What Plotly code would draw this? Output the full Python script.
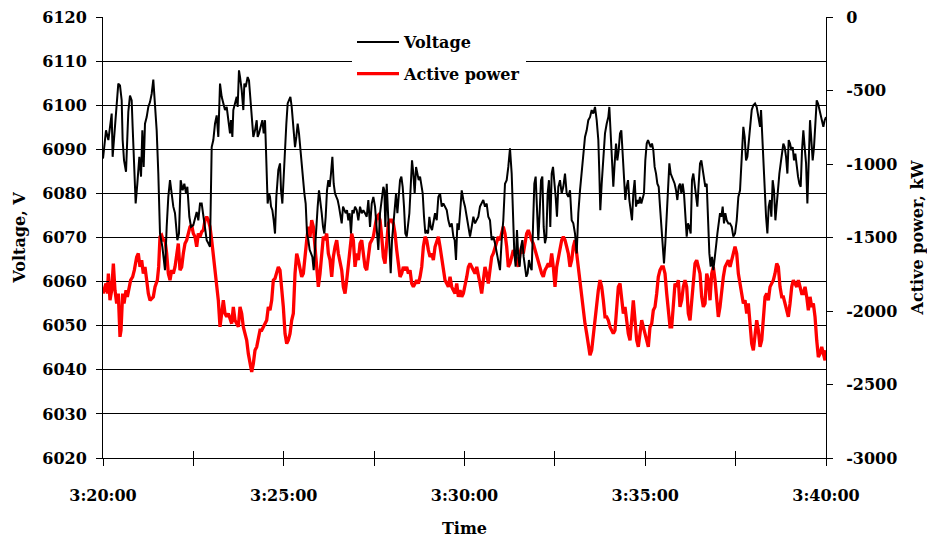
import plotly.graph_objects as go

# ---------------- data ----------------
tick_seconds = [0, 300, 600, 900, 1200]
tick_labels = ["3:20:00", "3:25:00", "3:30:00", "3:35:00", "3:40:00"]
minor_tick_seconds = [0, 150, 300, 450, 600, 750, 900, 1050, 1200]
volt_ticks = [6020, 6030, 6040, 6050, 6060, 6070, 6080, 6090, 6100, 6110, 6120]
power_ticks = [-3000, -2500, -2000, -1500, -1000, -500, 0]
power_tick_labels = ["-3000", "-2500", "-2000", "-1500", "-1000", "-500", "0"]

# Voltage, V  (time in seconds after 3:20:00)
volt_t = [
    0, 5.0, 8.9, 11.6, 14.4, 16.0, 18.3, 21.6, 25.4, 28.2,
    31.0, 32.6, 34.9, 38.2, 42.0, 44.8, 47.6, 49.2, 51.5, 54.2,
    57.0, 60.3, 63.1, 65.3, 67.5, 69.7, 72.5, 75.2, 78.0, 80.8,
    83.5, 86.3, 89.1, 91.8, 94.6, 98.5, 102.9, 105.7, 108.4, 111.2,
    114.0, 116.7, 119.5, 123.4, 126.1, 128.9, 132.2, 135.0, 137.8, 140.0,
    143.3, 146.1, 149.9, 152.7, 155.5, 158.2, 161.0, 163.8, 166.5, 169.3,
    172.1, 174.8, 177.6, 180.4, 183.1, 185.9, 188.7, 191.4, 194.2, 197.0,
    199.7, 202.5, 205.3, 208.0,
    210.8, 212.5, 214.7, 216.3, 219.1, 221.9, 223.5, 225.7, 227.4, 230.2,
    232.9, 234.6, 236.8, 240.1, 242.3, 244.5, 246.8, 249.5, 252.3, 255.1,
    256.7, 258.9, 261.7, 264.5, 266.7, 268.9, 270.0, 271.7, 273.3, 275.5,
    277.2, 278.9, 281.1, 283.3, 285.5, 287.7, 289.4, 291.0, 293.8, 295.5,
    297.7, 299.9, 302.1, 304.3, 306.5, 308.7, 311.0, 313.2, 315.4, 317.0,
    318.7, 320.9, 323.1, 325.3, 327.5, 329.8, 332.0, 334.2, 336.4, 338.6,
    340.8, 343.0, 345.3, 347.5, 349.7, 351.9, 354.1, 356.3, 358.5, 360.7,
    363.0, 365.2, 367.4, 369.6, 371.8, 374.0, 376.2, 378.4, 380.7, 382.9,
    385.1, 387.3, 389.5, 391.7, 393.9, 396.2, 398.4, 400.6, 402.8, 405.0,
    407.2, 409.4, 411.6, 413.9, 416.1,
    418.3, 421.1, 423.8, 426.6, 429.4, 432.1, 434.9, 437.7, 440.4, 443.2,
    446.0, 448.7, 451.5, 454.3, 457.0, 459.8, 462.6, 465.3, 467.0, 468.6,
    470.9, 473.1, 475.3, 477.5, 479.7, 481.9, 484.1, 486.4, 488.6, 490.8,
    493.0, 495.2, 497.4, 499.6, 501.8, 504.1, 506.3, 508.5, 510.7, 512.9,
    515.1, 517.3, 519.6, 521.8, 524.0, 526.2, 528.4, 530.6, 532.8, 535.0,
    537.3, 539.5, 541.7, 543.9, 546.1, 548.3, 551.1, 553.9, 556.6, 559.4,
    562.2, 564.9, 567.7, 570.5, 573.2, 576.0, 578.8, 581.5, 583.7, 585.9,
    588.2, 590.4, 592.6, 595.4, 598.1, 600.9, 603.7, 606.4, 609.2, 612.0,
    614.7, 617.5, 620.3, 623.0,
    625.7, 628.5, 631.2, 634.0, 636.8, 639.5, 642.3, 645.1, 647.8, 650.6,
    653.4, 656.1, 658.9, 661.7, 664.4, 667.2, 670.0, 672.7, 675.5, 678.3,
    681.0, 682.7, 684.9, 687.1, 689.3, 691.5, 693.8, 696.0, 698.2, 700.4,
    702.6, 704.8, 707.0, 709.2, 711.5, 713.7, 715.9, 718.1, 720.3, 722.5,
    724.7, 727.0, 729.2, 731.4, 733.6, 735.8, 738.0, 740.2, 742.4, 744.7,
    746.9, 749.1, 751.3, 753.5, 755.7, 758.5, 761.3, 764.0, 766.8, 769.6,
    772.3, 775.1, 777.9, 780.6, 783.4, 786.2, 788.9, 791.7, 794.5, 797.2,
    800.0, 802.8, 805.5, 808.3, 811.1, 813.8, 816.6, 819.4, 822.1, 823.8,
    825.4, 827.7, 830.4,
    833.2, 836.0, 838.7, 840.4, 842.6, 844.8, 847.0, 849.2, 851.5, 853.7,
    855.9, 858.1, 860.3, 862.5, 864.7, 866.9, 869.2, 871.4, 873.6, 875.8,
    878.0, 880.2, 882.4, 884.7, 886.9, 889.1, 891.3, 893.5, 895.7, 897.9,
    900.1, 902.4, 904.6, 906.8, 909.0, 911.2, 913.4, 915.6, 917.9, 920.1,
    922.3, 924.5, 926.7, 928.9, 931.1, 933.3, 935.6, 937.8, 940.0, 942.2,
    944.4, 946.6, 948.8, 951.1, 953.3, 955.5, 957.7, 959.9, 962.1, 964.3,
    966.5, 968.8, 971.0, 973.2, 975.4, 977.6, 979.8, 982.0, 984.3, 986.5,
    988.7, 990.9, 993.1, 995.3, 997.5, 999.7, 1002.0, 1004.2, 1006.4, 1008.6,
    1010.8, 1013.0, 1015.2, 1017.4, 1019.7, 1021.9, 1024.1, 1026.3, 1028.5, 1030.7,
    1032.9, 1035.2, 1037.9,
    1040.7, 1043.5, 1046.2, 1049.0, 1051.8, 1054.5, 1057.3, 1060.1, 1062.8, 1065.0,
    1067.3, 1069.5, 1071.7, 1073.9, 1076.7, 1079.4, 1082.2, 1085.0, 1087.7, 1090.5,
    1092.2, 1093.8, 1096.0, 1098.2, 1100.5, 1102.7, 1104.9, 1107.1, 1109.3, 1111.5,
    1113.7, 1116.0, 1118.2, 1120.4, 1122.6, 1124.8, 1127.0, 1129.2, 1131.4, 1133.7,
    1135.9, 1138.1, 1140.3, 1142.5, 1144.7, 1146.9, 1149.1, 1151.4, 1153.6, 1155.8,
    1158.0, 1160.2, 1162.4, 1164.6, 1166.9, 1169.1, 1171.3, 1173.5, 1175.7, 1177.9,
    1180.1, 1182.3, 1184.6, 1186.8, 1189.0, 1191.2, 1193.4, 1195.6, 1197.8, 1200,
]
volt_v = [
    6087.9, 6094.3, 6092.1, 6095.1, 6098.1, 6088.3, 6092.8, 6099.6, 6104.9, 6104.5,
    6101.1, 6092.1, 6087.5, 6084.9, 6098.5, 6102.2, 6101.1, 6095.1, 6086.8, 6077.7,
    6082.2, 6088.3, 6083.8, 6094.3, 6086.0, 6095.8, 6097.3, 6099.6, 6100.7, 6102.6,
    6105.8, 6100.4, 6094.3, 6084.5, 6070.9, 6067.9, 6062.6, 6072.4, 6079.2, 6083.0,
    6079.2, 6077.0, 6075.5, 6069.4, 6070.9, 6083.0, 6080.7, 6082.2, 6080.0, 6081.5,
    6074.7, 6072.4, 6072.8, 6074.7, 6075.8, 6073.9, 6077.7, 6077.7, 6074.7, 6071.7,
    6069.4, 6068.7, 6067.9, 6090.5, 6092.1, 6095.8, 6097.7, 6092.8, 6104.9, 6101.9,
    6100.4, 6098.9, 6099.6, 6095.8,
    6093.6, 6096.6, 6092.8, 6098.9, 6100.4, 6101.9, 6099.6, 6107.9, 6106.4, 6103.4,
    6098.9, 6104.9, 6104.1, 6106.4, 6105.6, 6101.9, 6096.6, 6092.8, 6094.3, 6096.6,
    6092.8, 6093.6, 6095.1, 6096.6, 6093.6, 6096.6, 6092.1, 6085.3, 6077.7, 6080.0,
    6079.2, 6077.0, 6076.2, 6073.9, 6070.9, 6079.2, 6083.0, 6085.3, 6086.8, 6080.7,
    6077.7, 6084.5, 6090.5, 6095.8, 6100.4, 6101.1, 6101.9, 6099.6, 6096.6, 6093.6,
    6090.5, 6092.8, 6095.8, 6093.6, 6089.8, 6087.5, 6083.0, 6080.0, 6077.7, 6070.9,
    6069.4, 6067.2, 6066.4, 6065.6, 6062.6, 6067.9, 6073.2, 6077.0, 6080.7, 6078.5,
    6075.5, 6072.4, 6070.9, 6074.7, 6080.7, 6083.0, 6081.5, 6084.5, 6088.3, 6082.2,
    6080.0, 6079.2, 6078.5, 6077.0, 6075.5, 6073.2, 6077.0, 6076.2, 6075.5, 6076.2,
    6073.9, 6075.5, 6070.9, 6076.2, 6075.5,
    6077.0, 6076.2, 6073.9, 6077.0, 6075.5, 6076.2, 6075.5, 6074.7, 6078.5, 6072.4,
    6077.7, 6079.2, 6077.0, 6072.4, 6067.2, 6075.5, 6078.5, 6081.5, 6080.7, 6072.4,
    6082.2, 6073.9, 6066.4, 6061.9, 6069.4, 6072.4, 6077.0, 6080.0, 6075.5, 6080.0,
    6083.0, 6083.8, 6081.5, 6077.0, 6070.9, 6070.2, 6072.4, 6075.5, 6081.5, 6087.5,
    6084.5, 6080.0, 6086.0, 6084.5, 6083.0, 6083.8, 6081.5, 6080.0, 6074.7, 6070.9,
    6071.7, 6070.9, 6074.7, 6072.4, 6071.7, 6073.9, 6075.5, 6073.9, 6079.2, 6080.0,
    6077.0, 6077.7, 6077.0, 6076.2, 6073.9, 6072.4, 6073.2, 6070.2, 6069.4, 6064.9,
    6073.2, 6071.7, 6075.5, 6080.7, 6078.5, 6077.0, 6074.7, 6072.4, 6070.2, 6072.4,
    6074.7, 6073.2, 6073.9, 6074.7,
    6077.0, 6077.7, 6078.5, 6077.0, 6077.7, 6074.7, 6073.9, 6069.4, 6070.2, 6068.7,
    6066.4, 6064.9, 6062.6, 6069.4, 6073.9, 6082.2, 6083.0, 6086.0, 6090.2, 6084.5,
    6075.5, 6066.4, 6063.4, 6071.7, 6065.6, 6063.4, 6067.9, 6069.4, 6065.6, 6062.6,
    6061.1, 6061.9, 6064.9, 6063.4, 6062.6, 6072.4, 6082.2, 6083.8, 6075.5, 6069.4,
    6075.5, 6083.0, 6083.8, 6072.4, 6068.7, 6070.2, 6080.0, 6083.0, 6072.4, 6084.5,
    6086.0, 6083.0, 6079.2, 6074.7, 6081.5, 6083.0, 6080.0, 6081.5, 6084.5, 6080.0,
    6079.2, 6080.7, 6073.9, 6073.2, 6070.9, 6066.4, 6075.5, 6080.7, 6084.5, 6087.5,
    6092.8, 6094.3, 6096.6, 6097.3, 6098.9, 6098.1, 6099.6, 6096.6, 6092.1, 6084.5,
    6076.2, 6082.2, 6087.5,
    6093.6, 6095.8, 6097.3, 6099.6, 6094.3, 6088.3, 6081.5, 6086.8, 6091.3, 6087.5,
    6089.8, 6093.6, 6094.3, 6089.0, 6083.0, 6078.5, 6081.5, 6083.0, 6078.5, 6076.2,
    6073.9, 6080.0, 6083.0, 6077.0, 6078.5, 6077.7, 6079.2, 6077.7, 6079.2, 6080.0,
    6087.5, 6091.3, 6092.1, 6091.3, 6090.5, 6091.3, 6089.8, 6086.0, 6084.5, 6082.2,
    6081.5, 6077.0, 6072.4, 6067.9, 6064.1, 6068.7, 6075.5, 6083.0, 6086.8, 6084.5,
    6083.8, 6083.0, 6082.2, 6080.7, 6078.5, 6081.5, 6082.2, 6080.0, 6082.2, 6080.0,
    6073.9, 6070.2, 6073.2, 6072.4, 6070.9, 6083.0, 6084.5, 6081.5, 6078.5, 6077.0,
    6082.2, 6086.8, 6087.5, 6085.3, 6083.0, 6081.5, 6082.2, 6073.9, 6066.4, 6063.4,
    6065.6, 6062.6, 6064.9, 6067.9, 6070.9, 6073.9, 6075.5, 6074.7, 6077.0, 6073.2,
    6075.5, 6073.9, 6073.2,
    6073.2, 6072.4, 6070.2, 6070.9, 6073.9, 6079.2, 6080.7, 6087.5, 6095.1, 6092.8,
    6087.5, 6088.3, 6091.3, 6095.1, 6098.9, 6100.0, 6100.4, 6099.6, 6097.3, 6095.1,
    6098.9, 6093.6, 6086.0, 6080.0, 6074.7, 6070.9, 6077.0, 6078.5, 6074.7, 6083.0,
    6080.7, 6073.9, 6077.7, 6081.5, 6084.5, 6086.8, 6089.0, 6091.3, 6090.5, 6088.3,
    6084.5, 6092.1, 6091.3, 6089.8, 6090.5, 6087.5, 6089.0, 6086.0, 6083.8, 6082.2,
    6081.5, 6089.8, 6094.3, 6090.5, 6086.8, 6077.7, 6089.8, 6096.6, 6092.1, 6087.5,
    6090.5, 6096.6, 6101.1, 6100.4, 6098.9, 6097.3, 6095.8, 6095.1, 6096.6, 6097.3,
]

# Active power, kW (time in seconds after 3:20:00)
power_t = [
    0, 5.0, 7.2, 8.9, 11.6, 14.4, 17.2, 19.9, 22.7, 25.4,
    28.2, 29.9, 32.6, 34.9, 38.2, 40.4, 43.7, 45.9, 49.2, 52.0,
    55.9, 58.6, 61.4, 64.2, 66.9, 69.7, 72.5, 75.2, 78.0, 80.8,
    83.5, 86.3, 90.2, 92.4, 94.6, 97.4, 100.1, 102.9, 105.7, 108.4,
    111.2, 114.0, 116.7, 119.5, 122.3, 125.0, 127.8, 130.6, 133.3, 136.1,
    138.9, 141.6, 144.4, 147.2, 149.9, 152.7, 155.5, 158.2, 161.0, 163.8,
    166.5, 169.3, 172.1, 174.8, 177.6, 180.4, 183.1, 185.9, 188.7, 191.4,
    194.2, 197.0, 199.7, 202.5, 205.3, 208.0,
    210.8, 213.6, 216.3, 219.1, 221.9, 224.6, 227.4, 230.2, 232.9, 235.7,
    238.5, 241.2, 244.0, 246.8, 249.5, 252.3, 255.1, 257.8, 260.6, 263.4,
    266.1, 268.9, 271.7, 274.4, 277.2, 280.0, 282.7, 285.5, 288.3, 291.0,
    293.8, 296.6, 299.3, 302.1, 304.9, 307.6, 310.4, 313.2, 315.9, 318.7,
    321.5, 324.2, 327.0, 329.8, 332.5, 335.3, 338.1, 340.8, 343.6, 346.4,
    349.1, 351.9, 354.7, 357.4, 360.2, 363.0, 365.7, 368.5, 371.3, 374.0,
    376.8, 379.6, 382.3, 385.1, 387.9, 390.6, 393.4, 396.2, 398.9, 401.7,
    404.5, 407.2, 410.0, 412.8, 415.5,
    418.3, 421.1, 423.8, 426.6, 429.4, 432.1, 434.9, 437.7, 440.4, 443.2,
    446.0, 448.7, 451.5, 454.3, 457.0, 459.8, 462.6, 465.3, 468.1, 470.9,
    473.6, 476.4, 479.2, 481.9, 484.7, 487.5, 490.2, 493.0, 495.8, 498.5,
    501.3, 504.1, 506.8, 509.6, 512.4, 515.1, 517.9, 520.7, 523.4, 526.2,
    529.0, 531.7, 534.5, 537.3, 540.0, 542.8, 545.6, 548.3, 551.1, 553.9,
    556.6, 559.4, 562.2, 564.9, 567.7, 570.5, 573.2, 576.0, 578.8, 581.5,
    584.3, 587.1, 589.8, 592.6, 595.4, 598.1, 600.9, 603.7, 606.4, 609.2,
    612.0, 614.7, 617.5, 620.3, 623.0,
    625.7, 628.5, 631.2, 634.0, 636.8, 639.5, 642.3, 645.1, 647.8, 650.6,
    653.4, 656.1, 658.9, 661.7, 664.4, 667.2, 670.0, 672.7, 675.5, 678.3,
    681.0, 683.8, 686.6, 689.3, 692.1, 694.9, 697.6, 700.4, 703.2, 705.9,
    708.7, 711.5, 714.2, 717.0, 719.8, 722.5, 725.3, 728.1, 730.8, 733.6,
    736.4, 739.1, 741.9, 744.7, 747.4, 750.2, 753.0, 755.7, 758.5, 761.3,
    764.0, 766.8, 769.6, 772.3, 775.1, 777.9, 780.6, 783.4, 786.2, 788.9,
    791.7, 794.5, 797.2, 800.0, 802.8, 805.5, 808.3, 811.1, 813.8, 816.6,
    819.4, 822.1, 824.9, 827.7, 830.4,
    833.2, 836.0, 838.7, 841.5, 844.3, 847.0, 849.8, 852.6, 855.3, 858.1,
    860.9, 863.6, 866.4, 869.2, 871.9, 874.7, 877.5, 880.2, 883.0, 885.8,
    888.5, 891.3, 894.1, 896.8, 899.6, 902.4, 905.1, 907.9, 910.7, 913.4,
    916.2, 919.0, 921.7, 924.5, 927.3, 930.0, 932.8, 935.6, 938.3, 941.1,
    943.9, 946.6, 949.4, 952.2, 954.9, 957.7, 960.5, 963.2, 966.0, 968.8,
    971.5, 974.3, 977.1, 979.8, 982.6, 985.4, 988.1, 990.9, 993.7, 996.4,
    999.2, 1002.0, 1004.7, 1007.5, 1010.3, 1013.0, 1015.8, 1018.6, 1021.3, 1024.1,
    1026.9, 1029.6, 1032.4, 1035.2, 1037.9,
    1040.7, 1043.5, 1046.2, 1049.0, 1051.8, 1054.5, 1057.3, 1060.1, 1062.8, 1065.6,
    1068.4, 1071.1, 1073.9, 1076.7, 1079.4, 1082.2, 1085.0, 1087.7, 1090.5, 1093.3,
    1096.0, 1098.8, 1101.6, 1104.3, 1107.1, 1109.9, 1112.6, 1115.4, 1118.2, 1120.9,
    1123.7, 1126.5, 1129.2, 1132.0, 1134.8, 1137.5, 1140.3, 1143.1, 1145.8, 1148.6,
    1151.4, 1154.1, 1156.9, 1159.7, 1162.4, 1165.2, 1168.0, 1170.7, 1173.5, 1176.3,
    1179.0, 1181.8, 1184.6, 1187.3, 1190.1, 1192.9, 1195.6, 1198.4, 1200,
]
power_kw = [
    -1881, -1813, -1881, -1745, -1927, -1859, -1677, -1859, -1949, -1881,
    -2176, -2131, -1881, -1949, -1859, -1904, -1836, -1790, -1768, -1722,
    -1632, -1609, -1700, -1654, -1745, -1700, -1790, -1881, -1927, -1915,
    -1904, -1836, -1790, -1700, -1495, -1484, -1518, -1518, -1609, -1745,
    -1790, -1722, -1745, -1700, -1609, -1541, -1722, -1700, -1609, -1541,
    -1518, -1473, -1427, -1416, -1473, -1495, -1563, -1473, -1495, -1461,
    -1450, -1382, -1359, -1382, -1427, -1518, -1609, -1745, -1813, -1927,
    -2108, -2017, -1927, -2017, -2040, -2017,
    -2063, -2086, -1972, -2063, -2086, -2108, -1972, -2017, -2108, -2154,
    -2199, -2290, -2358, -2415, -2358, -2267, -2244, -2199, -2131, -2131,
    -2108, -2086, -2063, -1972, -1995, -1927, -1790, -1779, -1745, -1700,
    -1722, -1836, -1972, -2154, -2222, -2199, -2154, -2063, -2017, -1745,
    -1609, -1654, -1700, -1768, -1745, -1609, -1518, -1427, -1495, -1382,
    -1427, -1563, -1700, -1836, -1745, -1609, -1495, -1518, -1473, -1609,
    -1654, -1768, -1632, -1563, -1518, -1609, -1677, -1722, -1836, -1881,
    -1790, -1700, -1563, -1473, -1518,
    -1700, -1609, -1654, -1541, -1518, -1609, -1700, -1722, -1609, -1541,
    -1518, -1495, -1427, -1359, -1348, -1382, -1495, -1632, -1677, -1518,
    -1404, -1382, -1382, -1404, -1473, -1586, -1700, -1768, -1745, -1700,
    -1722, -1700, -1745, -1722, -1813, -1836, -1813, -1790, -1813, -1768,
    -1700, -1563, -1495, -1518, -1586, -1632, -1609, -1654, -1563, -1518,
    -1495, -1563, -1632, -1722, -1790, -1813, -1836, -1768, -1836, -1859,
    -1881, -1813, -1904, -1859, -1904, -1881, -1836, -1768, -1700, -1677,
    -1700, -1722, -1745, -1700, -1745,
    -1813, -1881, -1790, -1700, -1745, -1813, -1722, -1632, -1609, -1563,
    -1518, -1495, -1518, -1473, -1427, -1473, -1563, -1700, -1677, -1632,
    -1586, -1609, -1654, -1700, -1609, -1563, -1609, -1541, -1473, -1450,
    -1495, -1518, -1541, -1586, -1632, -1654, -1700, -1745, -1768, -1722,
    -1700, -1677, -1700, -1609, -1700, -1836, -1700, -1632, -1563, -1518,
    -1495, -1518, -1563, -1609, -1700, -1654, -1563, -1518, -1609, -1700,
    -1836, -1904, -1995, -2086, -2154, -2244, -2301, -2267, -2154, -2063,
    -1949, -1859, -1790, -1836, -1927,
    -2040, -2040, -2063, -2108, -2131, -2154, -2131, -1949, -1836, -1813,
    -1927, -2017, -1972, -2063, -2154, -2199, -2040, -1927, -2063, -2199,
    -2244, -2154, -2063, -2108, -2154, -2222, -2244, -2108, -2086, -1995,
    -1972, -1881, -1768, -1722, -1700, -1700, -1745, -1881, -1995, -2108,
    -2108, -1972, -1813, -1836, -1790, -1972, -1927, -1836, -1790, -1836,
    -2017, -2063, -1927, -1790, -1677, -1654, -1700, -1745, -1904, -1972,
    -1949, -1745, -1790, -1927, -1745, -1700, -1790, -1949, -2040, -1972,
    -1859, -1768, -1700, -1677, -1654,
    -1700, -1654, -1609, -1563, -1609, -1745, -1813, -1881, -1949, -1927,
    -2017, -1949, -2108, -2222, -2267, -2154, -2063, -2131, -2244, -2199,
    -2017, -1904, -1881, -1927, -1836, -1813, -1790, -1745, -1677, -1700,
    -1836, -1904, -1904, -1949, -1995, -2040, -1949, -1836, -1790, -1813,
    -1836, -1790, -1836, -1881, -1881, -1836, -1904, -1995, -1904, -1972,
    -1949, -2040, -2199, -2313, -2290, -2244, -2290, -2335, -2267,
]

# ---------------- figure ----------------
FONT = "DejaVu Serif"
TXT = dict(family=FONT, size=16, color="black", weight="bold")

fig = go.Figure()
fig.add_trace(go.Scatter(
    x=volt_t, y=volt_v, name="Voltage", mode="lines",
    line=dict(color="black", width=2), yaxis="y2", legendgroup="v",
))
fig.add_trace(go.Scatter(
    x=power_t, y=power_kw, name="Active power", mode="lines",
    line=dict(color="#ff0000", width=3.3), yaxis="y", legendgroup="p",
))
# empty helper trace so the inner (crossing) tick axes get drawn
fig.add_trace(go.Scatter(
    x=[None], y=[None], xaxis="x2", yaxis="y3", showlegend=False,
    hoverinfo="skip", mode="lines",
))

fig.update_layout(
    width=927, height=538,
    margin=dict(l=103, r=101, t=17, b=80, autoexpand=False),
    paper_bgcolor="white", plot_bgcolor="white",
    font=TXT,
    showlegend=True,
    hovermode=False,
    legend=dict(
        x=(352 - 103) / 723, y=(458 - 25) / 441, xanchor="left", yanchor="top",
        bgcolor="white", borderwidth=0, itemwidth=42,
        traceorder="grouped", tracegroupgap=8,
        font=TXT,
    ),
    xaxis=dict(
        range=[0, 1200], tickmode="array", tickvals=tick_seconds, ticktext=tick_labels,
        ticks="outside", ticklen=7, tickwidth=1, tickcolor="black",
        minor=dict(tickmode="array", tickvals=minor_tick_seconds, ticks="outside",
                   ticklen=7, tickwidth=1, tickcolor="black"),
        showline=True, linecolor="black", linewidth=1,
        showgrid=False, zeroline=False, ticklabelstandoff=16,
        title=dict(text="Time", standoff=18, font=TXT),
        automargin=False,
    ),
    xaxis2=dict(
        overlaying="x", anchor="y3", side="bottom", range=[0, 1200],
        tickmode="array", tickvals=minor_tick_seconds, ticks="inside", ticklen=7,
        tickwidth=1, tickcolor="black", showticklabels=False,
        showline=False, showgrid=False, zeroline=False, automargin=False,
    ),
    yaxis=dict(
        side="right", range=[-3000, 0], tickmode="array",
        tickvals=power_ticks, ticktext=power_tick_labels,
        ticks="outside", ticklen=6, tickwidth=1, tickcolor="black",
        showline=True, linecolor="black", linewidth=1,
        showgrid=False, zeroline=False, ticklabelstandoff=10,
        title=dict(text="Active power, kW", standoff=20, font=TXT),
        automargin=False,
    ),
    yaxis2=dict(
        overlaying="y", side="left", range=[6020, 6120], dtick=10, tick0=6020,
        ticks="outside", ticklen=6, tickwidth=1, tickcolor="black",
        showline=True, linecolor="black", linewidth=1,
        showgrid=True, gridcolor="black", gridwidth=1,
        zeroline=False, ticklabelstandoff=6,
        title=dict(text="Voltage, V", standoff=12, font=TXT),
        automargin=False,
    ),
    yaxis3=dict(
        overlaying="y", anchor="x2", side="left", range=[6020, 6120],
        tickmode="array", tickvals=volt_ticks, ticks="inside", ticklen=6,
        tickwidth=1, tickcolor="black", showticklabels=False,
        showline=False, showgrid=False, zeroline=False, automargin=False,
    ),
)

fig.write_html(
    "out.html",
    config={"displayModeBar": False},
    post_script="document.body.style.margin='0';",
)
